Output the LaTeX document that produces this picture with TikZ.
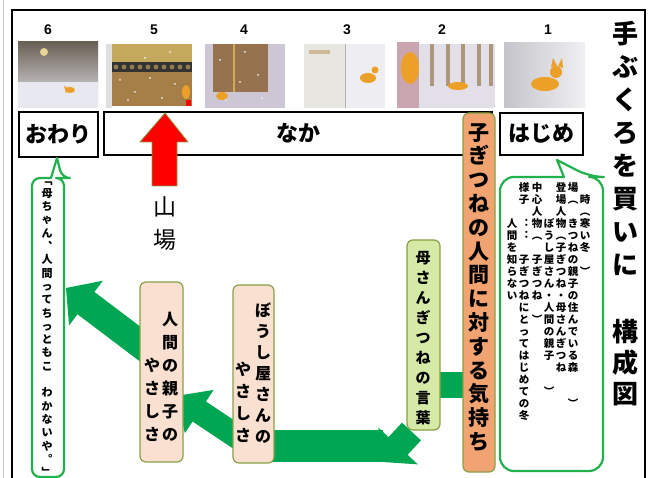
\documentclass[tikz,border=0pt]{standalone}
\usepackage{fontspec}
\newfontfamily\jp{Noto Sans CJK JP}
\newfontfamily\lat{Liberation Sans}
\usetikzlibrary{calc}

\definecolor{arrowgreen}{RGB}{0,166,81}
\definecolor{bubblegreen}{RGB}{34,177,76}
\definecolor{olive}{RGB}{137,160,70}
\definecolor{orangefill}{RGB}{241,163,113}
\definecolor{lightgreen}{RGB}{214,234,168}
\definecolor{pinkfill}{RGB}{250,224,208}
\definecolor{foxorange}{RGB}{236,160,40}
\definecolor{snow}{RGB}{232,233,240}
\definecolor{nightsky}{RGB}{105,96,86}
\definecolor{dusk}{RGB}{170,166,162}
\definecolor{moon}{RGB}{232,212,150}
\definecolor{wallbeige}{RGB}{196,168,92}
\definecolor{tileknob}{RGB}{150,120,80}
\definecolor{brick}{RGB}{165,126,72}
\definecolor{lavender}{RGB}{205,198,212}
\definecolor{doorwood}{RGB}{150,114,78}
\definecolor{doorframe}{RGB}{210,170,80}
\definecolor{pageleft}{RGB}{232,230,224}
\definecolor{pageright}{RGB}{238,238,242}
\definecolor{sand}{RGB}{205,185,150}
\definecolor{rosy}{RGB}{200,165,175}
\definecolor{forestsnow}{RGB}{226,223,232}
\definecolor{trunk}{RGB}{172,150,124}
\definecolor{shadowsnow}{RGB}{196,196,202}
\definecolor{brightsnow}{RGB}{240,240,243}

\newcommand\fs[1]{\fontsize{#1}{#1}\selectfont}
\newcommand\vsp{\kern0pt}

% vertical column of characters: #1 = pitch, #2 = characters
\ExplSyntaxOn
\dim_new:N \l__vc_pitch_dim
\NewDocumentCommand \vcol { m m }
  {
    \dim_set:Nn \l__vc_pitch_dim {#1}
    \vbox:n
      {
        \offinterlineskip
        \tl_map_inline:nn {#2}
          {
            \hbox_to_wd:nn { 1.2em }
              {
                \hss
                \vrule height \dim_eval:n { 0.38em + 0.5\l__vc_pitch_dim }
                       depth \dim_eval:n { 0.5\l__vc_pitch_dim - 0.38em }
                       width 0pt
                ##1
                \hss
              }
          }
      }
  }
\ExplSyntaxOff

% block arrow: #1 tail, #2 tip, #3 half shaft width, #4 half head width, #5 head length
\newcommand\blockarrow[5]{%
  \coordinate (ba-t) at #1;
  \coordinate (ba-h) at #2;
  \coordinate (ba-n) at ($(ba-h)!#5!(ba-t)$);
  \fill[arrowgreen] ($(ba-t)!#3!90:(ba-h)$) -- ($(ba-n)!#3!90:(ba-h)$)
    -- ($(ba-n)!#4!90:(ba-h)$) -- (ba-h) -- ($(ba-n)!#4!-90:(ba-h)$)
    -- ($(ba-n)!#3!-90:(ba-h)$) -- ($(ba-t)!#3!-90:(ba-h)$) -- cycle;}

\tikzset{
  labelbox/.style={draw=black, line width=2pt, fill=white, inner sep=0pt,
    font=\jp\bfseries\fs{22}},
  softbox/.style={draw=olive, line width=1.2pt, rounded corners=6pt, inner sep=0pt},
  orangebox/.style={softbox, fill=orangefill},
  greenbox/.style={softbox, fill=lightgreen},
  pinkbox/.style={softbox, fill=pinkfill},
  bubble/.style={draw=bubblegreen, line width=2.2pt, fill=white, line join=round},
  vtext/.style={inner sep=0pt, anchor=north},
  vbottom/.style={inner sep=0pt, anchor=south},
  num/.style={font=\lat\bfseries\fs{14}, inner sep=0pt},
  flake/.style={fill=white!90!gray},
}

\begin{document}
\begin{tikzpicture}[x=1pt, y=-1pt]
\useasboundingbox (0,0) rectangle (648,478);
\fill[white] (0,0) rectangle (648,478);

% page frame
\draw[gray!45, line width=0.8pt] (3,0) -- (3,478);
\draw[black, line width=1.4pt] (12,478) -- (12,10) -- (645,10) -- (645,478);

% scene numbers
\node[num] (n6) at (48,30) {6};
\node[num] (n5) at (154,30) {5};
\node[num] (n4) at (244,30) {4};
\node[num] (n3) at (347,30) {3};
\node[num] (n2) at (442,30) {2};
\node[num] (n1) at (548,30) {1};

% scene 6: moonlit snowfield
\shade[top color=nightsky, middle color=dusk, bottom color=snow] (18,42) rectangle (98,108);
\fill[snow] (18,82) rectangle (98,108);
\fill[moon] (44,52) circle (4);
\fill[foxorange] (70,90) ellipse (5 and 3);
\fill[foxorange] (64,86) -- (70,89) -- (66,93) -- cycle;

% scene 5: wall of the town
\fill[gray!25] (106,44) rectangle (112,108);
\fill[wallbeige] (112,44) rectangle (192,62);
\fill[black!80] (112,62) rectangle (192,72);
\foreach \i in {0,...,9} \fill[tileknob] (116+8*\i,67) circle (2.4);
\fill[brick] (112,72) rectangle (192,106);
\foreach \p in {(120,80),(135,92),(150,78),(162,98),(175,84),(128,100),(145,58),(170,52)}
  \fill[flake] \p circle (1);
\fill[foxorange] (186,92) ellipse (4 and 7);
\fill[red] (186,100) rectangle (191,106);

% scene 4: door of the hat shop
\fill[lavender] (205,44) rectangle (285,108);
\fill[doorwood] (213,44) rectangle (268,92);
\draw[doorframe, line width=1.2pt] (234,44) -- (234,92);
\foreach \p in {(220,60),(245,52),(258,75),(240,82),(226,100),(262,98)}
  \fill[flake] \p circle (1);
\fill[foxorange] (222,96) ellipse (6 and 4);

% scene 3: open page with the cub
\fill[pageleft] (304,44) rectangle (345,108);
\fill[pageright] (345,44) rectangle (385,108);
\draw[gray!60] (345,44) -- (345,108);
\fill[sand] (309,50) rectangle (330,54);
\fill[foxorange] (368,78) ellipse (8 and 5);
\fill[foxorange] (375,70) circle (3.5);

% scene 2: mother fox and the forest
\fill[rosy] (397,42) rectangle (419,108);
\fill[forestsnow] (419,44) rectangle (495,108);
\foreach \x in {430,446,461,477,489} \fill[trunk] (\x,44) rectangle (\x+4,86);
\fill[foxorange] (410,68) ellipse (9 and 16);
\fill[foxorange] (458,86) ellipse (10 and 4);

% scene 1: the cub in the snow
\shade[left color=shadowsnow, right color=brightsnow] (504,43) rectangle (585,108);
\fill[foxorange] (545,84) ellipse (14 and 7);
\fill[foxorange] (556,72) circle (6);
\fill[foxorange] (551,67) -- (553,58) -- (557,66) -- cycle;
\fill[foxorange] (558,66) -- (562,58) -- (563,68) -- cycle;

% stage headings
\node[labelbox, minimum width=388pt, minimum height=43pt] (naka) at (298,133.5) {なか};
\node[labelbox, minimum width=79pt, minimum height=45pt] (owari) at (58.5,134.5) {おわり};
\node[labelbox, minimum width=83pt, minimum height=42pt] (hajime) at (541.5,134) {はじめ};

% climax marker
\draw[fill=red, draw=olive, line width=0.8pt] (152,186) -- (152,142) -- (140,142) -- (165,113)
  -- (188,142) -- (177,142) -- (177,186) -- cycle;
\node[inner sep=0pt] (yamaba) at (165,223.5) {\jp\fs{23}\vcol{33pt}{山場}};

% flow of the cub's feelings
\coordinate (a1tail) at (411.5,431.5);
\coordinate (a1tip) at (383,462);
\blockarrow{(a1tail)}{(a1tip)}{13pt}{27pt}{22pt}
\fill[arrowgreen] (270,430) rectangle (383,462);
\coordinate (a2tail) at (242,440);
\coordinate (a2tip) at (176,396);
\blockarrow{(a2tail)}{(a2tip)}{12pt}{26pt}{28pt}
\coordinate (a3tail) at (148,350);
\coordinate (a3tip) at (66,288);
\blockarrow{(a3tail)}{(a3tip)}{14pt}{28pt}{25pt}
\fill[arrowgreen] (436,372) rectangle (466,398);

% orange column
\node[orangebox, minimum width=32pt, minimum height=359pt] (feel) at (479,292.5) {};
\node[vtext] (feeltext) at (479,120) {\jp\bfseries\fs{21}\vcol{23.8pt}{子ぎつねの人間に対する気持ち}};

% mother's words
\node[greenbox, minimum width=33pt, minimum height=190pt] (haha) at (423.5,335) {};
\node[vtext] (hahatext) at (423,248) {\jp\bfseries\fs{15}\vcol{20pt}{母さんぎつねの言葉}};

% kindness boxes
\node[pinkbox, minimum width=41pt, minimum height=178pt] (boushi) at (253.5,374) {};
\node[vbottom] (boushi1) at (263,447) {\jp\bfseries\fs{16}\vcol{21pt}{ぼうし屋さんの}};
\node[vbottom] (boushi2) at (243,447) {\jp\bfseries\fs{16}\vcol{22pt}{やさしさ}};
\node[pinkbox, minimum width=43pt, minimum height=180pt] (oyako) at (161.5,372) {};
\node[vbottom] (oyako1) at (170,446) {\jp\bfseries\fs{16}\vcol{23pt}{人間の親子の}};
\node[vbottom] (oyako2) at (152,446) {\jp\bfseries\fs{16}\vcol{23pt}{やさしさ}};

% speech bubble under the beginning
\draw[bubble, rounded corners=14pt] (564,177) -- (500,177) -- (500,471) -- (603,471) -- (603,177)
  -- (590,177) [sharp corners] -- (557,160) -- cycle;
\begin{scope}[every node/.style={vtext, font=\jp\bfseries\fs{10.5}}]
\node (b1) at (585,181) {\vcol{12pt}{\vsp 時︵寒い冬\vsp ︶}};
\node (b2) at (573,181) {\vcol{12pt}{場︵\vsp きつねの親子の住んでいる森\vsp\vsp ︶}};
\node (b3) at (561,181) {\vcol{12pt}{登場人物︵子ぎつね・母さんぎつね}};
\node (b4) at (549,181) {\vcol{12pt}{\vsp\vsp\vsp ぼうし屋さん・人間の親子\vsp\vsp ︶}};
\node (b5) at (537,181) {\vcol{12pt}{中心人物︵\vsp 子ぎつね\vsp ︶}};
\node (b6) at (524,181) {\vcol{12pt}{様子\vsp ︓︓\vsp 子ぎつねにとってはじめての冬}};
\node (b7) at (512,181) {\vcol{12pt}{\vsp\vsp\vsp 人間を知らない}};
\end{scope}

% speech bubble under the ending
\draw[bubble, rounded corners=8pt] (51,178) -- (32,178) -- (32,477) -- (64,477) -- (64,178)
  -- (62,178) [sharp corners] -- (57,158) -- cycle;
\node[vtext] (kotoba) at (47,173) {\jp\bfseries\fs{11}\vcol{13.3pt}{﹁母ちゃん︑人間ってちっともこ\vsp わかないや︒﹂}};

% title
\node[vtext] (title1) at (625,17) {\jp\bfseries\fs{26}\vcol{33pt}{手ぶくろを買いに}};
\node[vtext] (title2) at (625,316) {\jp\bfseries\fs{26}\vcol{31pt}{構成図}};
\end{tikzpicture}
\end{document}
